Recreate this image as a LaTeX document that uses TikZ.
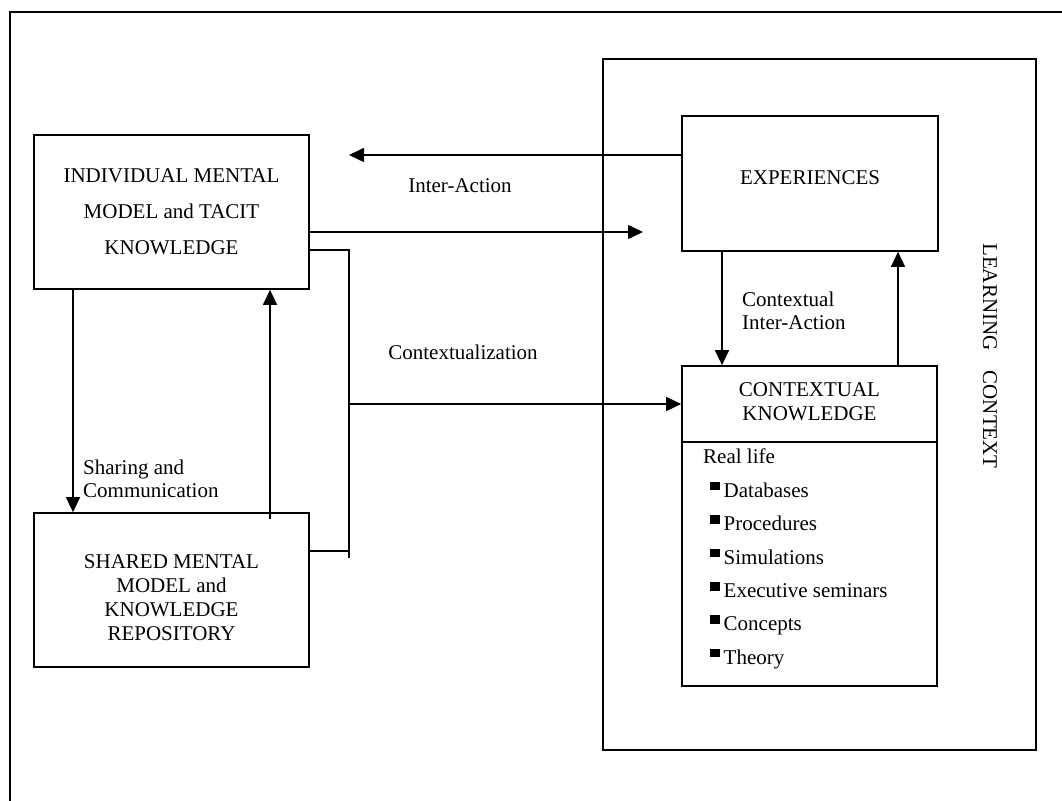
\documentclass[tikz,border=0pt]{standalone}
\usepackage{fontspec}
\setmainfont{Liberation Serif}
\usetikzlibrary{arrows.meta}

% small filled square used as list bullet
\newcommand\sqbullet{\rule[7pt]{9.5pt}{8.5pt}\hspace{4pt}}

\begin{document}
\begin{tikzpicture}[x=1pt,y=-1pt,
  box/.style={draw, line width=1.7pt, inner sep=0pt},
  link/.style={line width=1.6pt},
  arr/.style={line width=1.6pt, -{Triangle[length=15pt,width=14pt]}},
  txt/.style={inner sep=0pt, align=center, font=\fontsize{21}{24}\selectfont},
  ltxt/.style={inner sep=0pt, align=left, font=\fontsize{21}{23}\selectfont}]
\useasboundingbox (0,0) rectangle (1062,800);
\clip (0,0) rectangle (1062,800);

% frames and boxes
\node[box, anchor=north west, minimum width=1120pt, minimum height=860pt] (outer) at (9,11) {};
\node[box, minimum width=433pt, minimum height=691pt] (lc) at (819.5,404.5) {};
\node[box, minimum width=275pt, minimum height=154pt] (ind) at (171.5,212) {};
\node[box, minimum width=275pt, minimum height=154pt] (shared) at (171.5,590) {};
\node[box, minimum width=256pt, minimum height=135pt] (exp) at (810,183.5) {};
\node[box, minimum width=255pt, minimum height=320pt] (ctx) at (809.5,526) {};
\coordinate (div) at (0,442);
\draw[line width=1.7pt] (ctx.west|-div) -- (ctx.east|-div);

% box texts
\node[txt, font=\fontsize{21}{36}\selectfont] (indtxt) at (171.5,211.5)
  {INDIVIDUAL MENTAL\\MODEL and TACIT\\KNOWLEDGE};
\node[txt] (sharedtxt) at (171.5,598)
  {SHARED MENTAL\\MODEL and\\KNOWLEDGE\\REPOSITORY};
\node[txt] (exptxt) at (810,177.5) {EXPERIENCES};
\node[txt] (ctxtxt) at (809.5,401.5) {CONTEXTUAL\\KNOWLEDGE};
\node[ltxt, anchor=north west, font=\fontsize{21}{33.4}\selectfont] (list) at (703,449)
  {Real life\\
   \hspace*{7pt}\sqbullet Databases\\
   \hspace*{7pt}\sqbullet Procedures\\
   \hspace*{7pt}\sqbullet Simulations\\
   \hspace*{7pt}\sqbullet Executive seminars\\
   \hspace*{7pt}\sqbullet Concepts\\
   \hspace*{7pt}\sqbullet Theory};
\node[txt, rotate=-90] (lctxt) at (990,356) {LEARNING\hspace{15pt} CONTEXT};

% connector labels
\node[txt] (lbl1) at (460,186) {Inter-Action};
\node[ltxt, anchor=west] (lbl2) at (83,478.5) {Sharing and\\Communication};
\node[txt] (lbl3) at (463,352) {Contextualization};
\node[ltxt, anchor=west] (lbl4) at (742,311) {Contextual\\Inter-Action};

% inter-action arrows
\coordinate (ia) at (349,155);
\draw[arr] (exp.west|-ia) -- (ia);
\coordinate (ib) at (643,232);
\draw[arr] (ind.east|-ib) -- (ib);

% contextualization bracket
\coordinate (b1) at (349,250);
\coordinate (b2) at (349,558);
\coordinate (b3) at (349,551);
\coordinate (b4) at (349,404);
\draw[link] (ind.east|-b1) -- (b1) -- (b2);
\draw[link] (shared.east|-b3) -- (b3);
\draw[arr] (b4) -- (ctx.west|-b4);

% sharing and communication
\coordinate (s1) at (73,0);
\draw[arr] (ind.south-|s1) -- (shared.north-|s1);
\coordinate (s2) at (270,519);
\draw[arr] (s2) -- (ind.south-|s2);

% contextual inter-action
\coordinate (c1) at (722,0);
\draw[arr] (exp.south-|c1) -- (ctx.north-|c1);
\coordinate (c2) at (898,0);
\draw[arr] (ctx.north-|c2) -- (exp.south-|c2);
\end{tikzpicture}
\end{document}
